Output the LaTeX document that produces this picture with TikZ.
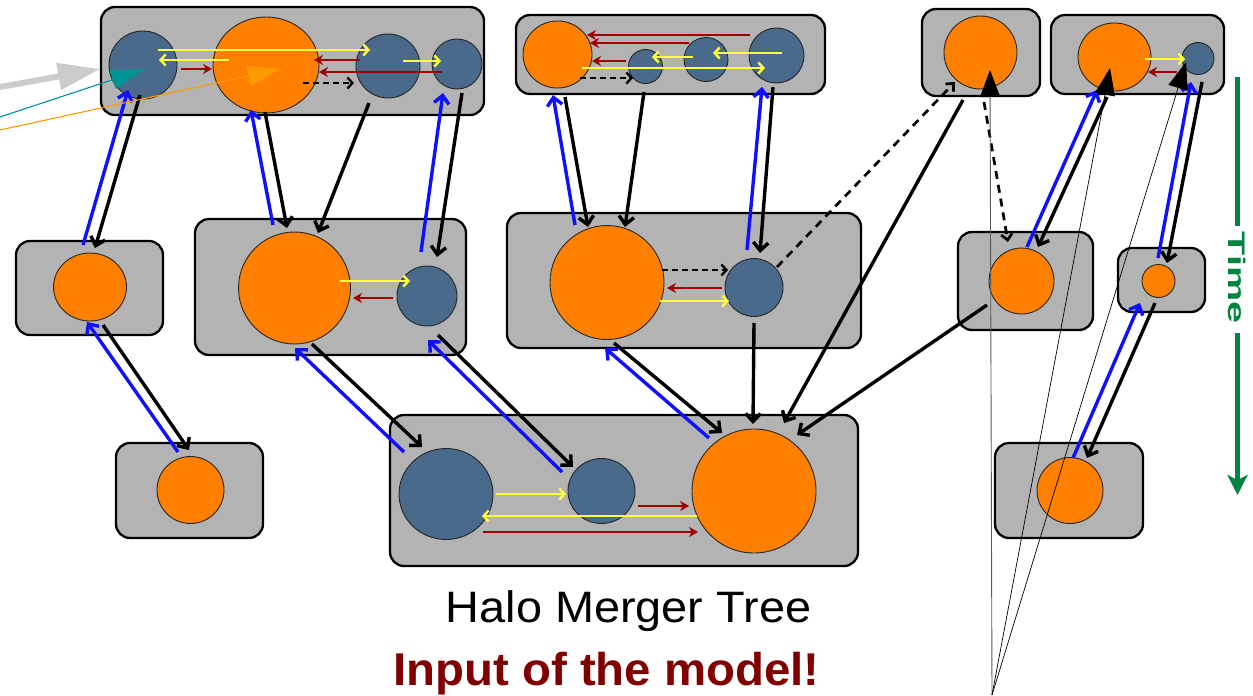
\documentclass[tikz,border=0pt]{standalone}
\usepackage{graphicx}
\usepackage{fontspec}
\setmainfont{Liberation Sans}
\usetikzlibrary{arrows.meta,calc,shapes.geometric}
\definecolor{boxgray}{HTML}{B3B3B3}
\definecolor{orangeC}{HTML}{FF7F00}
\definecolor{slate}{HTML}{4A6A8B}
\definecolor{yellowC}{HTML}{FFFF40}
\definecolor{redC}{HTML}{A00000}
\definecolor{blueC}{HTML}{1010FF}
\definecolor{greenC}{HTML}{00843F}
\definecolor{tealC}{HTML}{009494}
\definecolor{lgray}{HTML}{CCCCCC}
\definecolor{orline}{HTML}{FF9900}
\definecolor{inputred}{HTML}{800000}
\begin{document}
\begin{tikzpicture}[x=1pt,y=-1pt,
  box/.style={draw=black, line width=2.3pt, fill=boxgray, rounded corners=14pt, inner sep=0pt},
  orb/.style={circle, draw=black!85, line width=0.9pt, inner sep=0pt},
  ova/.style={ellipse, draw=black!85, line width=0.9pt, inner sep=0pt},
  ora/.style={fill=orangeC},
  slt/.style={fill=slate},
  blk/.style={line width=3.4pt, draw=black, -{Straight Barb[length=8pt,width=15pt]}},
  blu/.style={line width=3.4pt, draw=blueC, -{Straight Barb[length=8pt,width=15pt]}},
  yel/.style={line width=2.4pt, draw=yellowC, -{Straight Barb[length=5pt,width=11pt]}},
  rdd/.style={line width=2.4pt, draw=redC, -{Stealth[length=9pt,width=10pt]}},
  dsh/.style={line width=2.3pt, draw=black, dash pattern=on 6pt off 4pt, -{Straight Barb[length=5pt,width=11pt]}},
  ldsh/.style={line width=2.7pt, draw=black, dash pattern=on 8pt off 6pt, -{Straight Barb[length=6pt,width=11pt]}},
  bigtip/.style={-{Triangle[length=27pt,width=20pt,color=black]}}
]
\useasboundingbox (0,0) rectangle (1253,696);
\fill[white] (0,0) rectangle (1253,696);

% boxes
\node[box, minimum width=383pt, minimum height=108pt] (A) at (292.5,61) {};
\node[box, minimum width=147pt, minimum height=94pt] (B) at (89.5,288) {};
\node[box, minimum width=147pt, minimum height=95pt] (C) at (189.5,490.5) {};
\node[box, minimum width=271pt, minimum height=136pt] (D) at (330.5,287) {};
\node[box, minimum width=468pt, minimum height=151pt] (E) at (624,490.5) {};
\node[box, minimum width=354pt, minimum height=135pt] (F) at (684,280.5) {};
\node[box, minimum width=309pt, minimum height=79pt] (G) at (670.5,54.5) {};
\node[box, minimum width=118pt, minimum height=87pt] (H) at (981,52.5) {};
\node[box, minimum width=173pt, minimum height=79pt] (I) at (1137.5,54.5) {};
\node[box, minimum width=135pt, minimum height=98pt] (J) at (1025.5,281) {};
\node[box, minimum width=87pt, minimum height=64pt] (K) at (1161.5,280) {};
\node[box, minimum width=148pt, minimum height=95pt] (L) at (1069,490.5) {};

% halos
\node[orb, slt, minimum size=68pt] (a1) at (143,65) {};
\node[ova, ora, minimum width=106pt, minimum height=96pt] (a2) at (266,65) {};
\node[orb, slt, minimum size=64pt] (a3) at (388,66) {};
\node[orb, slt, minimum size=50pt] (a4) at (457,64) {};
\node[ova, ora, minimum width=73pt, minimum height=68pt] (b1) at (90,287) {};
\node[orb, ora, minimum size=67pt] (c1) at (190.5,490) {};
\node[orb, ora, minimum size=112pt] (d1) at (294.5,288) {};
\node[orb, slt, minimum size=60pt] (d2) at (427,296) {};
\node[ova, slt, minimum width=94pt, minimum height=91pt] (e1) at (446,494) {};
\node[ova, slt, minimum width=67pt, minimum height=65pt] (e2) at (601.5,491) {};
\node[orb, ora, minimum size=124pt] (e3) at (754,491) {};
\node[orb, ora, minimum size=114pt] (f1) at (607,282.5) {};
\node[orb, slt, minimum size=58pt] (f2) at (754,287.5) {};
\node[ova, ora, minimum width=69pt, minimum height=67pt] (g1) at (557.5,54.5) {};
\node[orb, slt, minimum size=34pt] (g2) at (645.5,66.5) {};
\node[orb, slt, minimum size=44pt] (g3) at (706,59.5) {};
\node[orb, slt, minimum size=55pt] (g4) at (776.5,55.5) {};
\node[orb, ora, minimum size=73pt] (h1) at (980.5,52.5) {};
\node[ova, ora, minimum width=73pt, minimum height=68pt] (i1) at (1114.5,57) {};
\node[orb, slt, minimum size=32pt] (i2) at (1198,58.5) {};
\node[ova, ora, minimum width=65pt, minimum height=66pt] (j1) at (1021.5,281) {};
\node[orb, ora, minimum size=33pt] (k1) at (1158.5,281) {};
\node[orb, ora, minimum size=66pt] (l1) at (1070,490.5) {};

% arrows inside box A
\draw[yel] ($(a1)+(15,-15)$) -- ($(a3)+(-18,-16)$);
\draw[yel] ($(a2)+(-37,-5)$) -- ($(a1)+(16,-5)$);
\draw[rdd] ($(a1)+(38,4)$) -- ($(a2)+(-54,4)$);
\draw[rdd] ($(a3)+(-28,-6)$) -- ($(a2)+(48,-5)$);
\draw[rdd] ($(a4)+(-15,8)$) -- ($(a2)+(53,7)$);
\draw[yel] ($(a3)+(15,-5)$) -- ($(a4)+(-16,-3)$);
\draw[dsh] ($(a2)+(37,18)$) -- ($(a3)+(-34,17)$);
% arrows inside box G
\draw[rdd] ($(g4)+(-26.5,-20.5)$) -- ($(g1)+(29.5,-19.5)$);
\draw[rdd] ($(g3)+(-17,-16.5)$) -- ($(g1)+(32.5,-11.5)$);
\draw[rdd] ($(g2)+(-19.5,-5.5)$) -- ($(g1)+(34.5,6.5)$);
\draw[yel] ($(g3)+(-13,-2.5)$) -- ($(g2)+(6.5,-9.5)$);
\draw[yel] ($(g4)+(5.5,-2.5)$) -- ($(g3)+(7,-6.5)$);
\draw[yel] ($(g1)+(24.5,13.5)$) -- ($(g4)+(-11.5,12.5)$);
\draw[dsh] ($(g1)+(22.5,23.5)$) -- ($(g2)+(-12.5,11.5)$);
% arrows inside box D
\draw[yel] ($(d1)+(45.5,-7)$) -- ($(d2)+(-17,-15)$);
\draw[rdd] ($(d2)+(-34,2)$) -- ($(d1)+(58.5,10)$);
% arrows inside box F
\draw[dsh] ($(f1)+(55,-12.5)$) -- ($(f2)+(-26,-17.5)$);
\draw[rdd] ($(f2)+(-32,0.5)$) -- ($(f1)+(60,5.5)$);
\draw[yel] ($(f1)+(53,18.5)$) -- ($(f2)+(-25,13.5)$);
% arrows inside box E
\draw[yel] ($(e1)+(50,0)$) -- ($(e2)+(-35.5,3)$);
\draw[rdd] ($(e2)+(36.5,15)$) -- ($(e3)+(-65,15)$);
\draw[yel] ($(e3)+(-57,25)$) -- ($(e1)+(36,22)$);
\draw[rdd] ($(e1)+(37,38)$) -- ($(e3)+(-56,41)$);
% arrows inside box I
\draw[yel] ($(i1)+(30.5,2)$) -- ($(i2)+(-13,0.5)$);
\draw[rdd] ($(i2)+(-21,13.5)$) -- ($(i1)+(33.5,15)$);

% tree links
\draw[blk] ($(a1)+(-3,30)$) -- ($(b1)+(5,-39)$);
\draw[blu] ($(b1)+(-7,-42)$) -- ($(a1)+(-15,25)$);
\draw[blk] ($(b1)+(13,38)$) -- ($(c1)+(-1.5,-40)$);
\draw[blu] ($(c1)+(-12.5,-38)$) -- ($(b1)+(-3,35)$);
\draw[blk] ($(a2)+(-1,47)$) -- ($(d1)+(-7.5,-60)$);
\draw[blu] ($(d1)+(-21.5,-63)$) -- ($(a2)+(-15,45)$);
\draw[blk] ($(a3)+(-19,37)$) -- ($(d1)+(23.5,-55)$);
\draw[blu] ($(d2)+(-6,-44)$) -- ($(a4)+(-14,29)$);
\draw[blk] ($(a4)+(5,29)$) -- ($(d2)+(10,-39)$);
\draw[blk] ($(d1)+(17.5,56)$) -- ($(e1)+(-24,-47)$);
\draw[blu] ($(e1)+(-42,-42)$) -- ($(d1)+(0.5,60)$);
\draw[blu] ($(e2)+(-39.5,-19)$) -- ($(d2)+(1,44)$);
\draw[blk] ($(d2)+(11,39)$) -- ($(e2)+(-28.5,-24)$);
\draw[blu] ($(f1)+(-32,-57.5)$) -- ($(g1)+(-4.5,40.5)$);
\draw[blk] ($(g1)+(7.5,42.5)$) -- ($(f1)+(-19,-55.5)$);
\draw[blk] ($(g2)+(-1.5,25.5)$) -- ($(f1)+(18,-55.5)$);
\draw[blu] ($(f2)+(-7,-37.5)$) -- ($(g4)+(-14.5,31.5)$);
\draw[blk] ($(g4)+(-3.5,31.5)$) -- ($(f2)+(6,-34.5)$);
\draw[blu] ($(e3)+(-45,-53)$) -- ($(f1)+(-2,65.5)$);
\draw[blk] ($(f1)+(7,60.5)$) -- ($(e3)+(-32,-58)$);
\draw[blk] ($(f2)+(0,35.5)$) -- ($(e3)+(-1,-67)$);
\draw[ldsh] ($(f2)+(23,-20.5)$) -- ($(h1)+(-25.5,29.5)$);
\draw[blk] ($(h1)+(-17.5,47.5)$) -- ($(e3)+(30,-68)$);
\draw[blk] ($(j1)+(-34.5,24)$) -- ($(e3)+(43,-56)$);
\draw[ldsh] ($(h1)+(3.5,49.5)$) -- ($(j1)+(-13.5,-39)$);
\draw[blu] ($(j1)+(5.5,-34)$) -- ($(i1)+(-17.5,33)$);
\draw[blk] ($(i1)+(-7.5,40)$) -- ($(j1)+(16.5,-34)$);
\draw[blu] ($(k1)+(-0.5,-23)$) -- ($(i2)+(-7,23.5)$);
\draw[blk] ($(i2)+(4,23.5)$) -- ($(k1)+(8.5,-18)$);
\draw[blu] ($(l1)+(3,-32.5)$) -- ($(k1)+(-18.5,22)$);
\draw[blk] ($(k1)+(-3.5,22)$) -- ($(l1)+(17,-32.5)$);

% stray pointers from the left edge
\coordinate (gsrc) at (0,87);
\coordinate (tsrc) at (0,117);
\coordinate (osrc) at (0,130);
\draw[lgray, line width=6pt, -{Triangle[length=42pt,width=26pt]}] (gsrc) -- ($(a1)+(-43,4)$);
\draw[tealC, line width=1.1pt, -{Triangle[length=34pt,width=19pt]}] (tsrc) -- ($(a1)+(2,4)$);
\draw[orline, line width=1.1pt, -{Triangle[length=32pt,width=21pt]}] (osrc) -- ($(a2)+(14,4)$);

% thin lines with large heads
\coordinate (apex) at (992,695);
\draw[line width=0.9pt, draw=black!65, bigtip] (apex) -- ($(h1)+(9.5,17.5)$);
\draw[line width=0.7pt, bigtip] (apex) -- ($(i1)+(-4.5,11)$);
\draw[line width=0.7pt, bigtip] (apex) -- ($(i2)+(-12,3.5)$);

% time axis
\node[font=\bfseries\fontsize{24}{27}\selectfont, text=greenC, rotate=-90, inner sep=0pt] (time) at (1237.5,277.5) {\scalebox{1.65}[1]{Time}};
\coordinate (ttop) at (1237.5,77);
\coordinate (tbot) at (1237.5,495);
\draw[greenC, line width=4.5pt] (ttop) -- ($(time.west)+(0,-5)$);
\draw[greenC, line width=4.5pt, -{Stealth[length=20pt,width=20pt,inset=5pt]}] ($(time.east)+(0,9)$) -- (tbot);

% captions
\node[font=\fontsize{44}{50}\selectfont, anchor=base, inner sep=0pt] (title) at (628.5,622) {\scalebox{1.065}[1]{Halo Merger Tree}};
\node[font=\bfseries\fontsize{46}{52}\selectfont, text=inputred, anchor=base, inner sep=0pt] (sub) at (606.5,685) {\scalebox{1.03}[1]{Input of the model!}};
\end{tikzpicture}
\end{document}
